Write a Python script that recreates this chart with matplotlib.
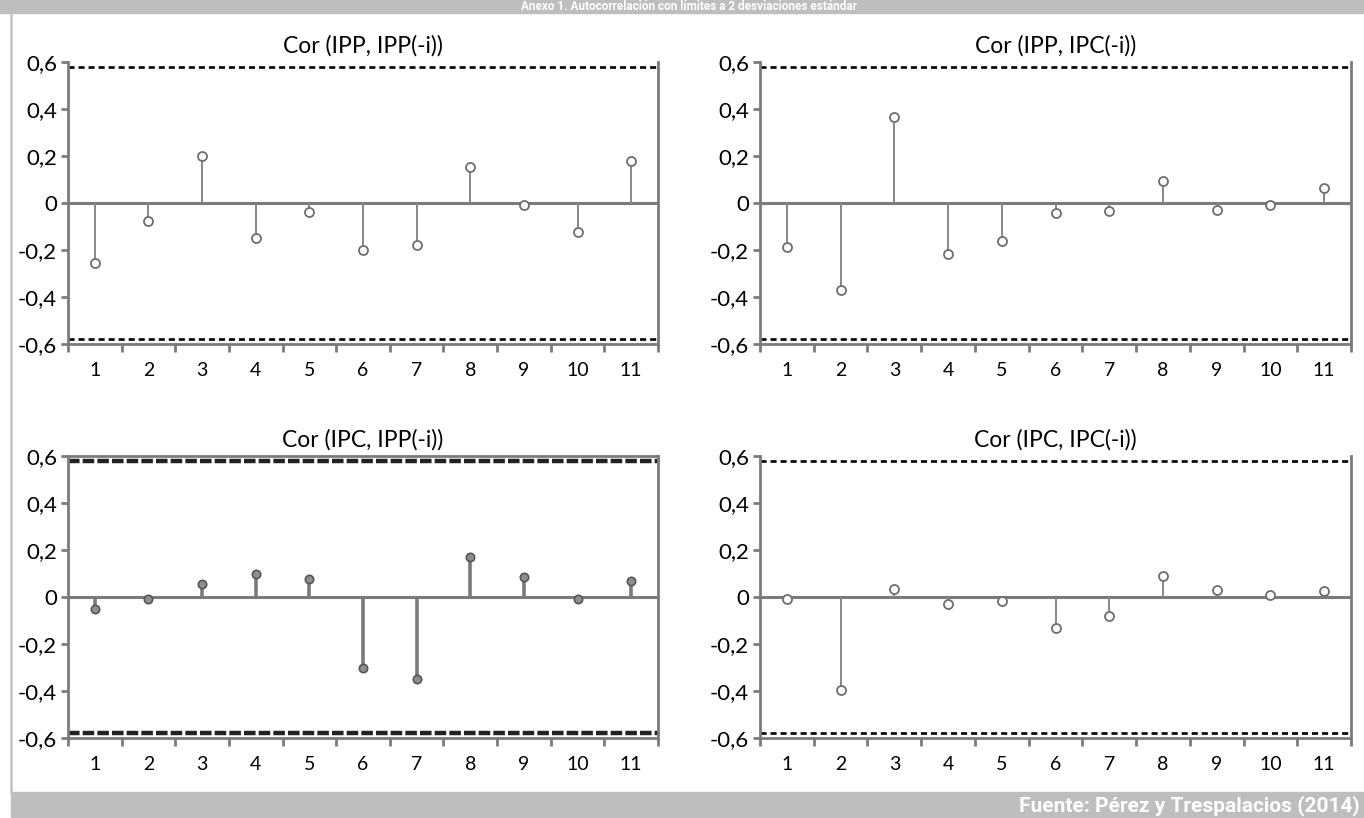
import matplotlib
matplotlib.use("Agg")
import matplotlib.pyplot as plt
from matplotlib.patches import Rectangle
from matplotlib.lines import Line2D
import numpy as np

plt.rcParams['font.family'] = ['Lato', 'DejaVu Sans']

lags = list(range(1, 12))
lag_labels = [str(i) for i in lags]
ytick_vals = [-0.6, -0.4, -0.2, 0, 0.2, 0.4, 0.6]
ytick_labels = ['-0,6', '-0,4', '-0,2', '0', '0,2', '0,4', '0,6']
limit = 0.577

titles = ['Cor (IPP, IPP(-i))', 'Cor (IPP, IPC(-i))', 'Cor (IPC, IPP(-i))', 'Cor (IPC, IPC(-i))']
ipp_ipp = [-0.257, -0.077, 0.200, -0.147, -0.040, -0.200, -0.180, 0.152, -0.010, -0.123, 0.180]
ipp_ipc = [-0.186, -0.370, 0.368, -0.217, -0.160, -0.043, -0.034, 0.095, -0.031, -0.010, 0.062]
ipc_ipp = [-0.050, -0.010, 0.057, 0.097, 0.078, -0.302, -0.350, 0.170, 0.085, -0.010, 0.068]
ipc_ipc = [-0.010, -0.395, 0.035, -0.030, -0.015, -0.130, -0.080, 0.091, 0.031, 0.008, 0.026]
series = [ipp_ipp, ipp_ipc, ipc_ipp, ipc_ipc]

W, H = 1364, 818
fig = plt.figure(figsize=(W / 100, H / 100), dpi=100)

# banners and frame line
fig.patches.append(Rectangle((0, 1 - 13 / H), 1, 13 / H, transform=fig.transFigure,
                             color='#bdbec0', zorder=0))
fig.patches.append(Rectangle((11 / W, 0), 1, 26 / H, transform=fig.transFigure,
                             color='#bdbec0', zorder=0))
fig.lines.append(Line2D([11 / W, 11 / W], [26 / H, 1 - 13 / H], transform=fig.transFigure,
                        color='#c3c3c3', lw=1.8))
fig.text(0.505, 1 - 6.5 / H, 'Anexo 1. Autocorrelación con límites a 2 desviaciones estándar',
         ha='center', va='center', color='white', fontsize=8.5, fontweight='bold',
         family=['Roboto', 'DejaVu Sans'])
fig.text(1 - 4 / W, 12 / H, 'Fuente: Pérez y Trespalacios (2014)', ha='right', va='center',
         color='white', fontsize=15, fontweight='bold', family=['Roboto', 'DejaVu Sans'])

positions = [
    (68, 62, 658, 344),
    (760, 62, 1351, 344),
    (68, 456, 658, 738),
    (760, 456, 1351, 738),
]

spine_c = '#7b7b7d'
stem_c = '#87878a'

for k, (x0, y0, x1, y1) in enumerate(positions):
    ax = fig.add_axes([x0 / W, 1 - y1 / H, (x1 - x0) / W, (y1 - y0) / H])
    vals = series[k]
    special = (k == 2)
    ax.set_xlim(0.5, 11.5)
    ax.set_ylim(-0.6, 0.6)
    for s in ['left', 'bottom', 'right']:
        ax.spines[s].set_color(spine_c)
        ax.spines[s].set_linewidth(2.0)
    if special:
        ax.spines['top'].set_color(spine_c)
        ax.spines['top'].set_linewidth(2.0)
    else:
        ax.spines['top'].set_visible(False)
    if special:
        for v in (limit, -limit):
            ax.axhline(v, color='#222222', lw=3.2, ls=(0, (2.6, 0.7)), zorder=2)
    else:
        for v in (limit, -limit):
            ax.axhline(v, color='black', lw=1.9, ls=(0, (2.3, 1.5)), zorder=2)
    ax.axhline(0, color=spine_c, lw=2.2, zorder=3)
    if special:
        ax.vlines(lags, 0, vals, color='#7a7a7c', lw=2.6, zorder=4)
        ax.plot(lags, vals, 'o', ms=6, mfc='#8e8e8e', mec='#555555', mew=1.2, zorder=5)
    else:
        ax.vlines(lags, 0, vals, color=stem_c, lw=1.4, zorder=4)
        ax.plot(lags, vals, 'o', ms=6.5, mfc='white', mec='#6e6e70', mew=1.3, zorder=5)
    ax.set_yticks(ytick_vals)
    ax.set_yticklabels(ytick_labels, fontsize=16)
    ax.tick_params(axis='y', direction='out', length=5, width=2, color=spine_c, pad=3)
    ax.set_xticks(np.arange(0.5, 12, 1.0))
    ax.set_xticklabels([])
    ax.tick_params(axis='x', which='major', direction='out', length=6, width=2, color=spine_c)
    ax.set_xticks(lags, minor=True)
    ax.set_xticklabels(lag_labels, minor=True, fontsize=14)
    ax.tick_params(axis='x', which='minor', length=0, pad=13)
    ax.set_title(titles[k], fontsize=16.5, pad=7)

fig.savefig('out.png', dpi=100)
